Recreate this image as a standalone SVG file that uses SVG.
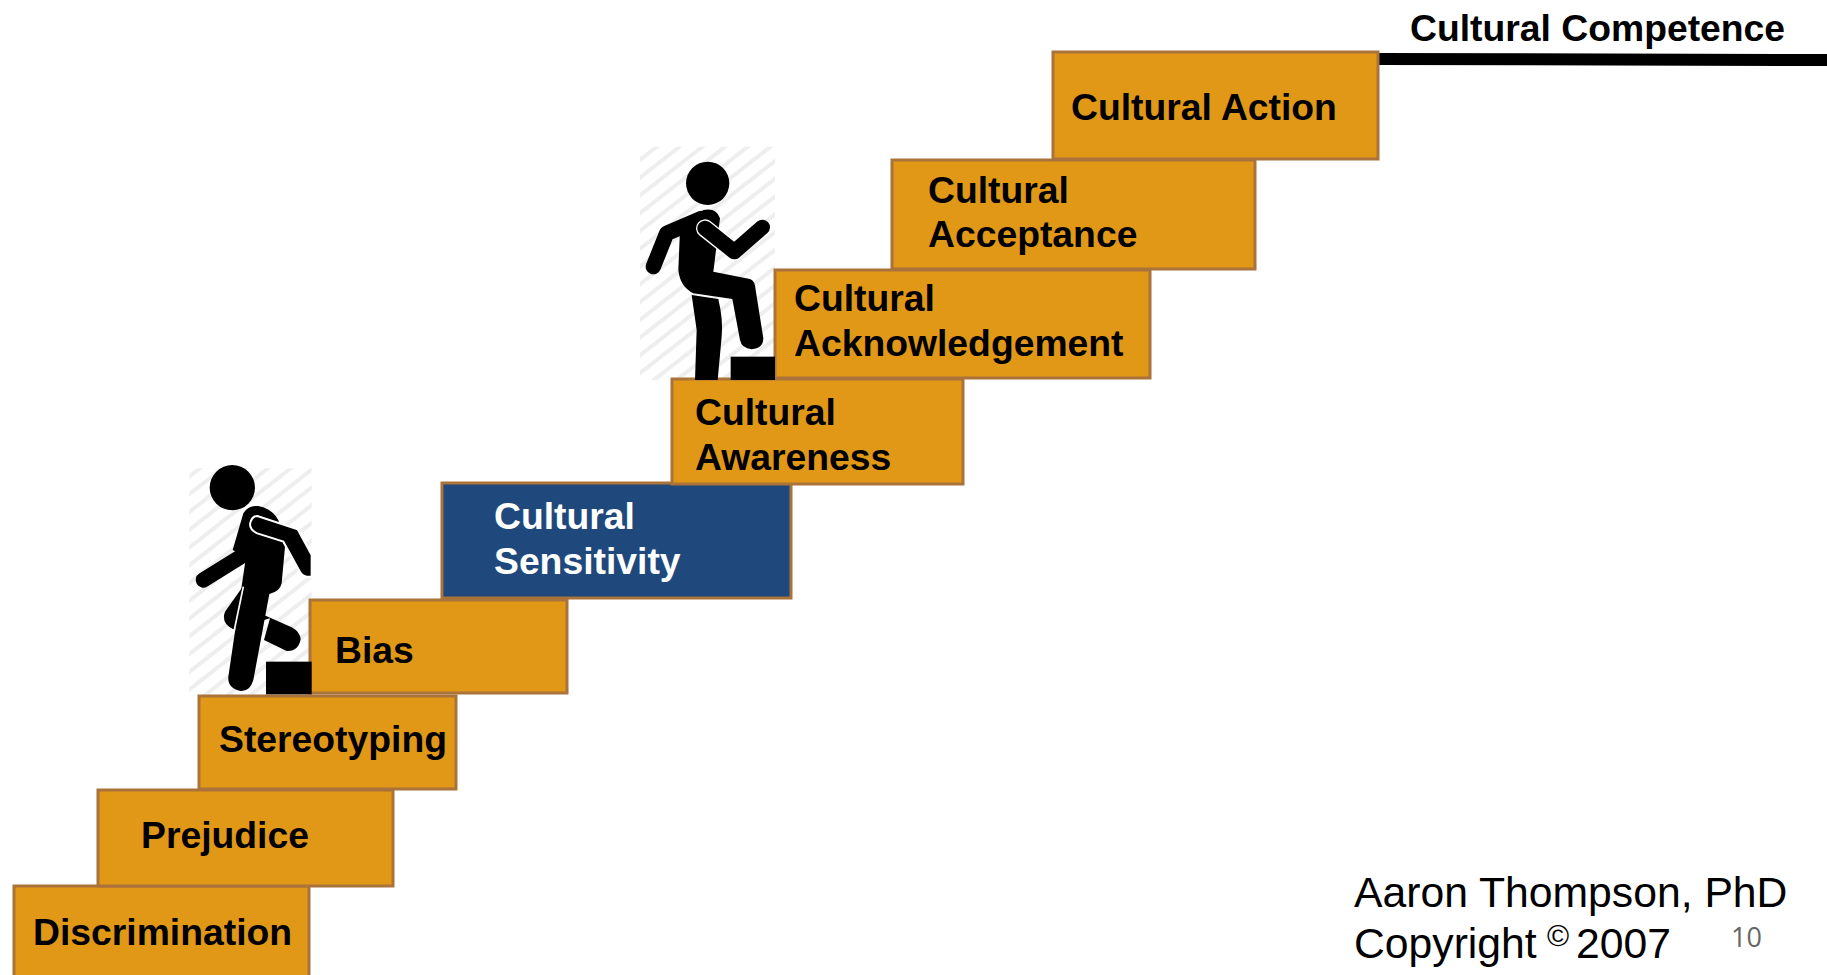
<svg xmlns="http://www.w3.org/2000/svg" width="1827" height="975" viewBox="0 0 1827 975">
<style>
.step{fill:#E29817;stroke:#A9733A;stroke-width:3}
.blue{fill:#1F497D;stroke:#A9733A;stroke-width:3}
.lbl{font-family:"Liberation Sans",Arial,sans-serif;font-weight:700;font-size:37.3px;fill:#000}
.wh{fill:#fff}
.cr{font-family:"Liberation Sans",Arial,sans-serif;font-size:42.7px;fill:#000}
.limb{fill:none;stroke:#000;stroke-linecap:round;stroke-linejoin:round}
.halo{fill:none;stroke:#fff;stroke-linecap:round;stroke-linejoin:round}
</style>
<defs>
<pattern id="hatch" width="14" height="14" patternUnits="userSpaceOnUse" patternTransform="rotate(-38)">
<rect width="14" height="14" fill="#fff"/>
<rect y="0" width="14" height="4" fill="#eeeeee"/>
</pattern>
</defs>
<rect width="1827" height="975" fill="#fff"/>
<g id="connectors">
<path d="M1378 53L1827 54L1827 66L1378 65Z" fill="#000"/>
</g>
<rect id="hatch-lower" x="189.3" y="468.3" width="122.4" height="226.7" fill="url(#hatch)"/>
<rect id="hatch-upper" x="640" y="146.7" width="135" height="233.3" fill="url(#hatch)"/>
<g id="discrimination"><rect class="step" x="14" y="886" width="295" height="92"/><text class="lbl" x="33" y="945">Discrimination</text></g>
<g id="prejudice"><rect class="step" x="98" y="790" width="295" height="96"/><text class="lbl" x="141" y="848">Prejudice</text></g>
<g id="stereotyping"><rect class="step" x="199" y="696" width="257" height="93"/><text class="lbl" x="219" y="752">Stereotyping</text></g>
<g id="bias"><rect class="step" x="310" y="600" width="257" height="93"/><text class="lbl" x="335" y="663">Bias</text></g>
<g id="sensitivity"><rect class="blue" x="442" y="483" width="349" height="115"/><text class="lbl wh" x="494" y="529">Cultural</text><text class="lbl wh" x="494" y="574">Sensitivity</text></g>
<g id="awareness"><rect class="step" x="672" y="379" width="291" height="105"/><text class="lbl" x="695" y="425">Cultural</text><text class="lbl" x="695" y="470">Awareness</text></g>
<g id="acknowledgement"><rect class="step" x="775" y="270" width="375" height="108"/><text class="lbl" x="794" y="311">Cultural</text><text class="lbl" x="794" y="356">Acknowledgement</text></g>
<g id="acceptance"><rect class="step" x="892" y="160" width="363" height="109"/><text class="lbl" x="928" y="203">Cultural</text><text class="lbl" x="928" y="247">Acceptance</text></g>
<g id="action"><rect class="step" x="1053" y="52" width="325" height="107"/><text class="lbl" x="1071" y="120">Cultural Action</text></g>
<g id="fig-lower" transform="translate(170 450) scale(.33333)">
<circle cx="187" cy="113" r="68"/>
<path class="limb" stroke-width="46" d="M100 390L212 320"/>
<path d="M218 410L165 485Q152 520 190 538L212 530L300 505L282 570L350 603Q385 605 392 568Q390 545 365 532L270 490Z"/>
<path d="M220 190Q235 165 265 168Q305 175 325 210L345 290L335 400Q330 425 298 432L250 690Q240 725 212 723Q172 715 175 680L228 320L188 300Z"/>
<path d="M220 410L193 540" stroke="#fff" stroke-width="5" fill="none"/>
<path d="M262 198L383 238L425 315V380H410Q395 378 388 362L340 275L262 250Q240 240 240 222Q245 198 262 198Z" stroke="#fff" stroke-width="6"/>
<rect x="288" y="635" width="137" height="98"/>
</g>
<g id="fig-upper" transform="translate(625 130) scale(.33333)">
<circle cx="248" cy="160" r="65"/>
<path class="limb" stroke-width="46" d="M85 410L125 310L230 265"/>
<path d="M165 300L235 240Q275 232 285 265L265 425L375 447Q390 452 392 480L415 625Q415 655 380 658Q350 655 345 630L322 507L205 490Q165 470 160 420Z"/>
<path d="M200 495L280 507Q295 570 290 620L278 750H210L215 600Z"/>
<path class="halo" stroke-width="54" d="M240 295L328 365"/>
<path class="limb" stroke-width="46" d="M240 295L328 365L412 292"/>
<rect x="317" y="680" width="133" height="70"/>
</g>
<g id="competence"><text class="lbl" x="1410" y="41">Cultural Competence</text></g>
<g id="credit">
<text class="cr" x="1354" y="907">Aaron Thompson, PhD</text>
<text class="cr" x="1354" y="958">Copyright</text>
<text class="cr" x="1547" y="946" style="font-size:30px">©</text>
<text class="cr" x="1576" y="958">2007</text>
<text x="1731" y="947" style="font-family:'Open Sans',sans-serif;font-size:27px;fill:#666">10</text>
</g>
</svg>
